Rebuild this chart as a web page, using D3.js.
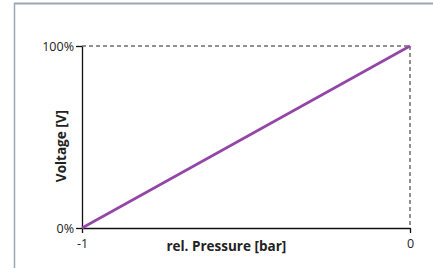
<!DOCTYPE html>
<html>
<head>
<meta charset="utf-8">
<script src="https://cdn.jsdelivr.net/npm/d3@7"></script>
<style>
  html, body { margin: 0; padding: 0; background: #fff; }
  svg { display: block; font-family: "Open Sans", "Noto Sans", sans-serif; }
</style>
</head>
<body>
<div id="chart"></div>
<script>
// Linear sensor characteristic: voltage vs. relative pressure
const pressure = [-1, 0];
const voltage = [0, 100];
const xTicks = [-1, 0];
const yTicks = [0, 100];

(function () {
  const W = 433, H = 268;
  const mL = 82, mR = 23, mT = 46, mB = 40;
  const width = W - mL - mR, height = H - mT - mB;

  const svg = d3.select("#chart").append("svg")
    .attr("width", W).attr("height", H);

  // Frame (top + left rules)
  svg.append("line").attr("x1", 14).attr("x2", W).attr("y1", 3.5).attr("y2", 3.5)
    .attr("stroke", "#9aa6b8").attr("stroke-width", 2);
  svg.append("line").attr("x1", 14.5).attr("x2", 14.5).attr("y1", 3).attr("y2", H)
    .attr("stroke", "#9aa6b8").attr("stroke-width", 1.5);

  const g = svg.append("g").attr("transform", `translate(${mL},${mT})`);

  const x = d3.scaleLinear().domain([-1, 0]).range([0, width]);
  const y = d3.scaleLinear().domain([0, 100]).range([height, 0]);

  // Dashed top/right boundary
  g.append("line").attr("x1", 0).attr("x2", width).attr("y1", y(100)).attr("y2", y(100))
    .attr("stroke", "#222").attr("stroke-dasharray", "4 3");
  g.append("line").attr("x1", width).attr("x2", width).attr("y1", y(100)).attr("y2", y(0))
    .attr("stroke", "#222").attr("stroke-dasharray", "4 3");

  const xAxis = g.append("g").attr("transform", `translate(0,${height})`)
    .call(d3.axisBottom(x).tickValues(xTicks).tickSize(5).tickSizeOuter(0).tickFormat(d => String(d)));
  const yAxis = g.append("g")
    .call(d3.axisLeft(y).tickValues(yTicks).tickSize(6).tickSizeOuter(0).tickFormat(d => d + "%"));

  [xAxis, yAxis].forEach(a => {
    a.select(".domain").attr("stroke", "#111").attr("stroke-width", 1.3);
    a.selectAll(".tick line").attr("stroke", "#111").attr("stroke-width", 1.3);
    a.selectAll("text").attr("fill", "#222").attr("font-size", "12.5px")
      .attr("font-family", "\"Open Sans\", \"Noto Sans\", sans-serif");
  });
  xAxis.selectAll("text").attr("y", 11).attr("dy", "0.71em");
  yAxis.selectAll("text").attr("x", -8).attr("dy", "0.35em");

  // Data line
  const pts = pressure.map((p, i) => [p, voltage[i]]);
  g.append("path").datum(pts)
    .attr("fill", "none").attr("stroke", "#9346a8").attr("stroke-width", 2.6)
    .attr("d", d3.line().x(d => x(d[0])).y(d => y(d[1])));

  // Axis titles
  g.append("text")
    .attr("x", x(-0.56)).attr("y", height + 23)
    .attr("text-anchor", "middle").attr("font-size", "13.5px").attr("font-weight", "bold")
    .attr("fill", "#222")
    .text("rel. Pressure [bar]");
  g.append("text")
    .attr("transform", `translate(-16,${y(45)}) rotate(-90)`)
    .attr("text-anchor", "middle").attr("font-size", "13.5px").attr("font-weight", "bold")
    .attr("fill", "#222")
    .text("Voltage [V]");
})();
</script>
</body>
</html>
